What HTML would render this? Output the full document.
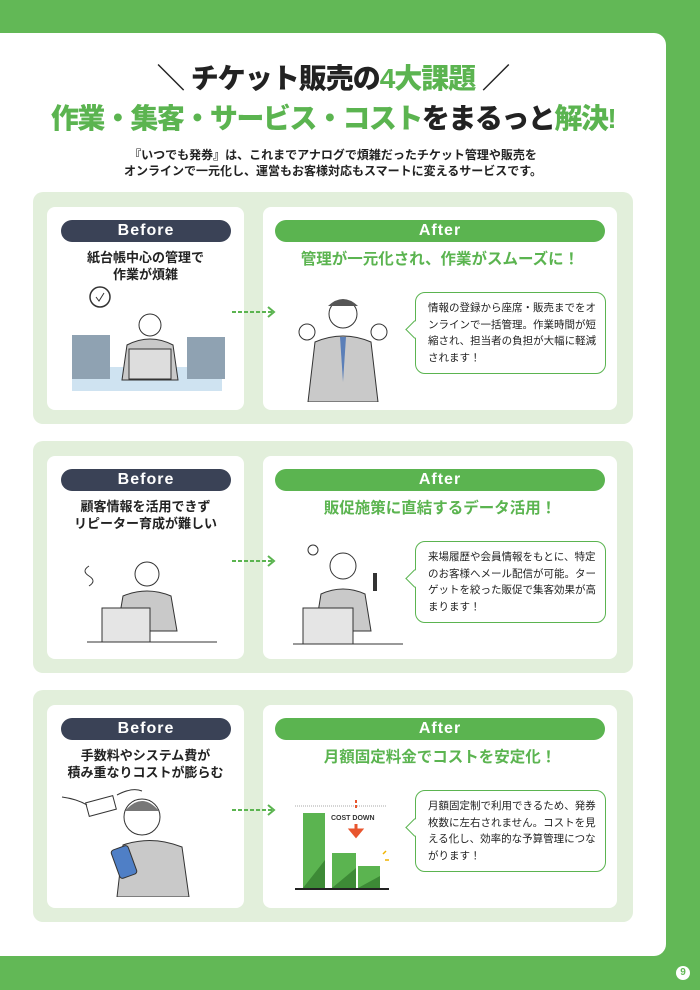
<!DOCTYPE html>
<html><head><meta charset="utf-8">
<style>
*{margin:0;padding:0;box-sizing:border-box}
body{width:700px;height:990px;background:#62b856;position:relative;overflow:hidden;font-family:"Liberation Sans","Noto Sans CJK JP",sans-serif;color:#222}
.page{position:absolute;left:0;top:33px;width:666px;height:923px;background:#fff;border-radius:0 12px 12px 0}
.a{position:absolute}
.h1{left:0;width:666px;top:24px;text-align:center;font-size:28px;font-weight:900;letter-spacing:-1px}
.h2{left:0;width:666px;top:64px;text-align:center;font-size:28px;font-weight:900;letter-spacing:-1.5px;color:#5bb450}
.g{color:#5bb450}.k{color:#222}
.sub{left:0;width:666px;top:114px;text-align:center;font-size:12px;font-weight:700;line-height:16px}
.sec{left:33px;width:600px;height:232px;background:#e2efdb;border-radius:10px}
.card{background:#fff;border-radius:8px;position:absolute}
.pill{position:absolute;height:22px;border-radius:11px;color:#fff;font-weight:700;font-size:16px;text-align:center;line-height:22px;letter-spacing:1px}
.bef{left:14px;width:170px;background:#3a4256}
.aft{left:12px;width:330px;background:#5bb450}
.bt{position:absolute;left:0;width:197px;top:42px;text-align:center;font-size:13px;font-weight:700;line-height:17px}
.at{position:absolute;left:0;width:354px;top:40px;text-align:center;font-size:15.5px;font-weight:700;color:#5bb450}
.bub{position:absolute;left:152px;top:85px;width:191px;height:82px;border:1.5px solid #5bb450;border-radius:10px;background:#fff;font-size:10.5px;line-height:16.5px;padding:7px 8px 0 12px}
.bub:before{content:"";position:absolute;left:-8px;top:30px;width:12px;height:12px;background:#fff;border-left:1.5px solid #5bb450;border-bottom:1.5px solid #5bb450;transform:rotate(45deg)}
.arr{position:absolute;left:199px;top:112px;z-index:5}
</style></head><body>
<div class="page">
<div class="a h1">＼ チケット販売の<span class="g">4大課題</span> ／</div>
<div class="a h2">作業・集客・サービス・コスト<span class="k">をまるっと</span>解決!</div>
<div class="a sub">『いつでも発券』は、これまでアナログで煩雑だったチケット管理や販売を<br>オンラインで一元化し、運営もお客様対応もスマートに変えるサービスです。</div>
</div>

<!-- section 1 -->
<div class="a sec" style="top:192px">
 <div class="card" style="left:14px;top:15px;width:197px;height:203px">
  <div class="pill bef" style="top:13px">Before</div>
  <div class="bt">紙台帳中心の管理で<br>作業が煩雑</div>
  <svg class="a" style="left:20px;top:78px" width="160" height="110"><circle cx="33" cy="12" r="10" fill="none" stroke="#333" stroke-width="1.5"/><path d="M29 12l3 4 5-8" stroke="#333" fill="none"/><rect x="5" y="82" width="150" height="24" fill="#cfe3f1"/><rect x="5" y="50" width="38" height="44" fill="#8fa2b2"/><rect x="120" y="52" width="38" height="42" fill="#8fa2b2"/><circle cx="83" cy="40" r="11" fill="#fff" stroke="#333"/><path d="M55 95 L60 60 Q83 48 106 60 L111 95Z" fill="#c9c9c9" stroke="#333"/><rect x="62" y="64" width="42" height="30" fill="#ddd" stroke="#333"/></svg>
 </div>
 <svg class="arr" width="46" height="16"><path d="M0 8h40" stroke="#5bb450" stroke-width="2" stroke-dasharray="4 2"/><path d="M36 3l6 5-6 5" stroke="#5bb450" stroke-width="2" fill="none"/></svg>
 <div class="card" style="left:230px;top:15px;width:354px;height:203px">
  <div class="pill aft" style="top:13px">After</div>
  <div class="at">管理が一元化され、作業がスムーズに！</div>
  <svg class="a" style="left:30px;top:85px" width="100" height="110"><circle cx="50" cy="22" r="14" fill="#fff" stroke="#333"/><path d="M35 14q15-14 30 0" fill="#555"/><path d="M15 110 L22 50 Q50 38 78 50 L85 110Z" fill="#c9c9c9" stroke="#333"/><path d="M47 45l3 45 3-45z" fill="#5b7fb8"/><circle cx="14" cy="40" r="8" fill="#fff" stroke="#333"/><circle cx="86" cy="40" r="8" fill="#fff" stroke="#333"/></svg>
  <div class="bub">情報の登録から座席・販売までをオンラインで一括管理。作業時間が短縮され、担当者の負担が大幅に軽減されます！</div>
 </div>
</div>

<!-- section 2 -->
<div class="a sec" style="top:441px">
 <div class="card" style="left:14px;top:15px;width:197px;height:203px">
  <div class="pill bef" style="top:13px">Before</div>
  <div class="bt">顧客情報を活用できず<br>リピーター育成が難しい</div>
  <svg class="a" style="left:20px;top:80px" width="160" height="110"><path d="M22 30q-8 5 0 10q8 5 0 10" stroke="#333" fill="none"/><circle cx="80" cy="38" r="12" fill="#fff" stroke="#333"/><path d="M50 95 L56 60 Q80 50 104 60 L110 95Z" fill="#c9c9c9" stroke="#333"/><rect x="35" y="72" width="48" height="34" fill="#e5e5e5" stroke="#333"/><path d="M20 106h130" stroke="#333"/></svg>
 </div>
 <svg class="arr" width="46" height="16"><path d="M0 8h40" stroke="#5bb450" stroke-width="2" stroke-dasharray="4 2"/><path d="M36 3l6 5-6 5" stroke="#5bb450" stroke-width="2" fill="none"/></svg>
 <div class="card" style="left:230px;top:15px;width:354px;height:203px">
  <div class="pill aft" style="top:13px">After</div>
  <div class="at">販促施策に直結するデータ活用！</div>
  <svg class="a" style="left:30px;top:80px" width="110" height="110"><circle cx="20" cy="14" r="5" fill="#fff" stroke="#333"/><circle cx="50" cy="30" r="13" fill="#fff" stroke="#333"/><path d="M22 95 L28 58 Q50 48 72 58 L78 95Z" fill="#c9c9c9" stroke="#333"/><path d="M82 55v-18" stroke="#333" stroke-width="4"/><rect x="10" y="72" width="50" height="36" fill="#e5e5e5" stroke="#333"/><path d="M0 108h110" stroke="#333"/></svg>
  <div class="bub">来場履歴や会員情報をもとに、特定のお客様へメール配信が可能。ターゲットを絞った販促で集客効果が高まります！</div>
 </div>
</div>

<!-- section 3 -->
<div class="a sec" style="top:690px">
 <div class="card" style="left:14px;top:15px;width:197px;height:203px">
  <div class="pill bef" style="top:13px">Before</div>
  <div class="bt">手数料やシステム費が<br>積み重なりコストが膨らむ</div>
  <svg class="a" style="left:10px;top:82px" width="170" height="110"><rect x="30" y="12" width="28" height="14" fill="#fff" stroke="#333" transform="rotate(-15 44 19)"/><path d="M5 10q15 2 25 8M60 8q15-8 25-4" stroke="#333" fill="none"/><circle cx="85" cy="30" r="18" fill="#fff" stroke="#333"/><path d="M68 24q17-20 34 0" fill="#777"/><path d="M60 110 L66 58 Q95 48 125 60 L132 110Z" fill="#c9c9c9" stroke="#333"/><rect x="58" y="60" width="18" height="30" rx="3" fill="#4f7fc6" stroke="#333" transform="rotate(-20 67 75)"/></svg>
 </div>
 <svg class="arr" width="46" height="16"><path d="M0 8h40" stroke="#5bb450" stroke-width="2" stroke-dasharray="4 2"/><path d="M36 3l6 5-6 5" stroke="#5bb450" stroke-width="2" fill="none"/></svg>
 <div class="card" style="left:230px;top:15px;width:354px;height:203px">
  <div class="pill aft" style="top:13px">After</div>
  <div class="at">月額固定料金でコストを安定化！</div>
  <svg class="a" style="left:30px;top:95px" width="100" height="90"><path d="M2 6h92" stroke="#aaa" stroke-dasharray="1 1"/><rect x="10" y="13" width="22" height="75" fill="#5bb450"/><path d="M10 88 L32 60 V88Z" fill="#3d8a36"/><rect x="39" y="53" width="24" height="35" fill="#5bb450"/><path d="M39 88 L63 68 V88Z" fill="#3d8a36"/><rect x="65" y="66" width="22" height="22" fill="#5bb450"/><path d="M65 88 L87 76 V88Z" fill="#3d8a36"/><path d="M2 89h94" stroke="#222" stroke-width="2"/><text x="38" y="20" font-size="7" font-weight="700" fill="#333" font-family="Liberation Sans,sans-serif">COST DOWN</text><path d="M63 0v3M63 5v3" stroke="#e8552e" stroke-width="2"/><path d="M63 24v10M58 30l5 6 5-6z" stroke="#e8552e" stroke-width="3" fill="#e8552e"/><path d="M90 54l3-3M92 60h4" stroke="#f0b400" stroke-width="1.5"/></svg>
  <div class="bub">月額固定制で利用できるため、発券枚数に左右されません。コストを見える化し、効率的な予算管理につながります！</div>
 </div>
</div>

<div class="a" style="left:676px;top:966px;width:14px;height:14px;border-radius:7px;background:#fff;color:#62b856;font-size:10px;font-weight:700;text-align:center;line-height:14px">9</div>
</body></html>
